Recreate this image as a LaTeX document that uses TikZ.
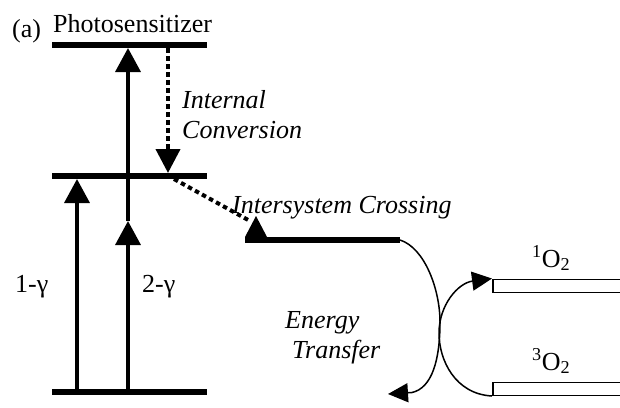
\documentclass[tikz,border=0pt]{standalone}
\usepackage{fontspec}
\setmainfont{Liberation Serif}
\usetikzlibrary{arrows.meta}
\begin{document}
\begin{tikzpicture}[x=1pt,y=-1pt,
  level/.style={line width=6pt},
  pump/.style={line width=3.5pt,-{Triangle[length=24pt,width=25pt]}},
  relax/.style={line width=4pt,dash pattern=on 4.5pt off 3.5pt},
  relaxarrow/.style={relax,-{Triangle[length=24pt,width=24pt]}},
  transfer/.style={line width=1.5pt,-{Triangle[length=20pt,width=19pt]}},
  oxy/.style={draw,line width=1.5pt,fill=white,inner sep=0pt,anchor=north west,minimum width=140pt,minimum height=13pt},
  lbl/.style={inner sep=0pt,anchor=base west,font=\fontsize{26}{30}\selectfont},
  ilbl/.style={inner sep=0pt,anchor=base west,font=\fontsize{26}{30}\selectfont\itshape}]
\useasboundingbox (0,0) rectangle (620,407);
% energy levels
\coordinate (S2l) at (52,45);  \coordinate (S2r) at (207,45);
\coordinate (S1l) at (52,176); \coordinate (S1r) at (207,176);
\coordinate (S0l) at (52,392); \coordinate (S0r) at (207,392);
\coordinate (T1l) at (245,240); \coordinate (T1r) at (400,240);
\draw[level] (S2l) -- (S2r);
\draw[level] (S1l) -- (S1r);
\draw[level] (S0l) -- (S0r);
\draw[level] (T1l) -- (T1r);
% oxygen levels
\node[oxy] (sing) at (492,278.5) {};
\node[oxy] (trip) at (492,381.5) {};
% excitation arrows
\coordinate (g1b) at (77,392);  \coordinate (g1t) at (77,179);
\coordinate (g2b) at (128,392); \coordinate (g2m) at (128,221); \coordinate (g2t) at (128,48);
\draw[pump] (g1b) -- (g1t);
\draw[pump] (g2b) -- (g2m);
\draw[pump] (g2m) -- (g2t);
% internal conversion
\coordinate (ica) at (168,48); \coordinate (icb) at (168,173);
\draw[relaxarrow] (ica) -- (icb);
% intersystem crossing
\coordinate (isca) at (174,179); \coordinate (iscb) at (250,221);
\draw[relax] (isca) -- (iscb);
\fill (245,237) -- (267,237) -- (256,216) -- cycle;
% energy transfer
\coordinate (etend) at (388,394);
\draw[transfer] (T1r) .. controls (425,248) and (440,290) .. (440,322)
  .. controls (440,360) and (432,388) .. (412,392.5) -- (etend);
\draw[transfer] (trip.south west) .. controls (455,394) and (439,360) .. (439,333)
  .. controls (439,305) and (458,283) .. (sing.north west);
% labels
\node[lbl] (pa) at (12,37) {(a)};
\node[lbl] (ps) at (53,32) {Photosensitizer};
\node[ilbl] (ic1) at (182,108) {Internal};
\node[ilbl] (ic2) at (182,138) {Conversion};
\node[ilbl] (isc) at (232,213) {Intersystem Crossing};
\node[ilbl] (et1) at (285,328) {Energy};
\node[ilbl] (et2) at (292,358) {Transfer};
\node[lbl] (l1) at (15,292) {1-γ};
\node[lbl] (l2) at (142,292) {2-γ};
\node[lbl] (o1) at (532,267) {\textsuperscript{1}O\textsubscript{2}};
\node[lbl] (o3) at (532,370) {\textsuperscript{3}O\textsubscript{2}};
\end{tikzpicture}
\end{document}
